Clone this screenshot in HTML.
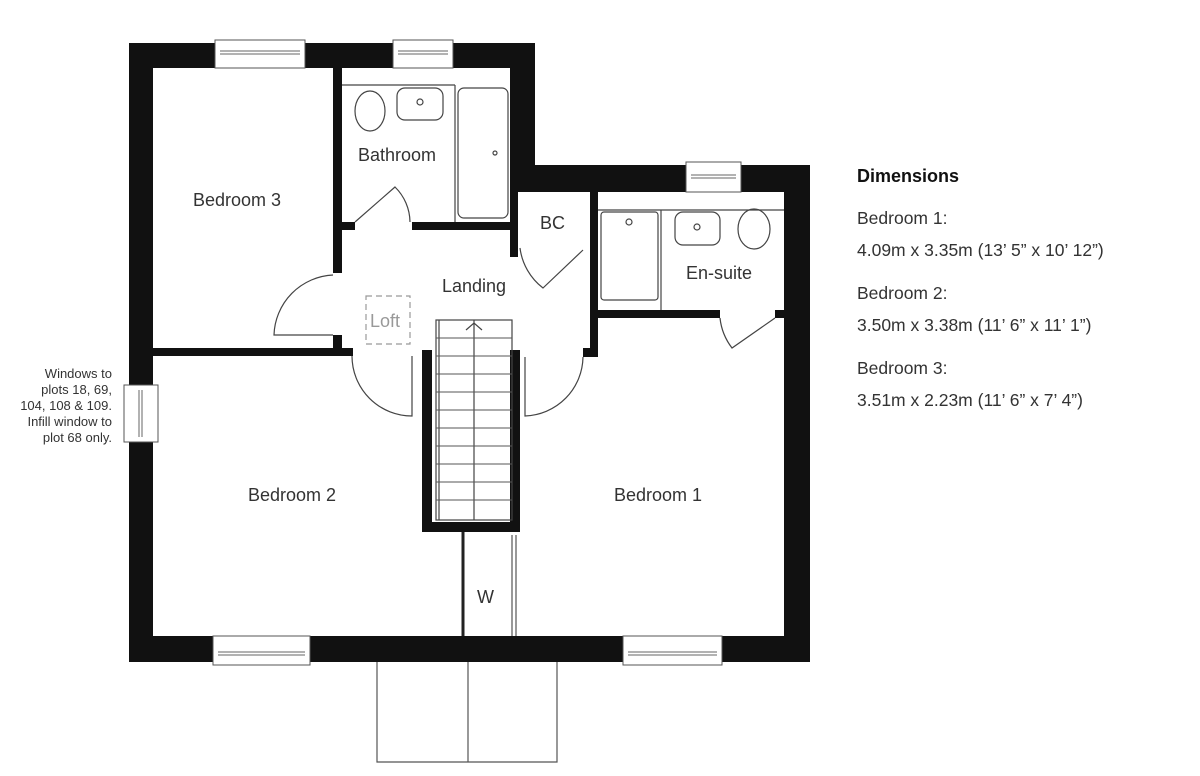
<!DOCTYPE html>
<html><head><meta charset="utf-8"><style>
body{margin:0;background:#fff;width:1200px;height:771px;overflow:hidden}
svg text{font-family:"Liberation Sans",sans-serif;fill:#333}
</style></head><body>
<svg width="1200" height="771" viewBox="0 0 1200 771" xmlns="http://www.w3.org/2000/svg">
<g fill="#111">
<rect x="129" y="43" width="24" height="619"/>
<rect x="129" y="43" width="406" height="25"/>
<rect x="510" y="43" width="25" height="149"/>
<rect x="510" y="165" width="300" height="27"/>
<rect x="784" y="165" width="26" height="497"/>
<rect x="129" y="636" width="681" height="26"/>
<rect x="333" y="68" width="9" height="205"/>
<rect x="333" y="335" width="9" height="20"/>
<rect x="153" y="348" width="200" height="8"/>
<rect x="342" y="222" width="13" height="8"/>
<rect x="412" y="222" width="106" height="8"/>
<rect x="510" y="192" width="8" height="65"/>
<rect x="590" y="192" width="8" height="165"/>
<rect x="598" y="310" width="122" height="8"/>
<rect x="775" y="310" width="9" height="8"/>
<rect x="422" y="350" width="10" height="182"/>
<rect x="510" y="350" width="10" height="182"/>
<rect x="422" y="522" width="98" height="10"/>
<rect x="583" y="348" width="15" height="9"/>
</g>
<g fill="#fff" stroke="#555" stroke-width="1">
<rect x="215" y="40" width="90" height="28"/>
<rect x="393" y="40" width="60" height="28"/>
<rect x="686" y="162" width="55" height="30"/>
<rect x="213" y="636" width="97" height="29"/>
<rect x="623" y="636" width="99" height="29"/>
<rect x="124" y="385" width="34" height="57"/>
</g>
<g stroke="#666" stroke-width="1" fill="none">
<line x1="220" y1="51" x2="300" y2="51"/><line x1="220" y1="54" x2="300" y2="54"/>
<line x1="398" y1="51" x2="448" y2="51"/><line x1="398" y1="54" x2="448" y2="54"/>
<line x1="691" y1="175" x2="736" y2="175"/><line x1="691" y1="178" x2="736" y2="178"/>
<line x1="218" y1="652" x2="305" y2="652"/><line x1="218" y1="655" x2="305" y2="655"/>
<line x1="628" y1="652" x2="717" y2="652"/><line x1="628" y1="655" x2="717" y2="655"/>
<line x1="139" y1="390" x2="139" y2="437"/><line x1="142" y1="390" x2="142" y2="437"/>
</g>
<g stroke="#444" stroke-width="1.2" fill="none">
<line x1="342" y1="85" x2="455" y2="85"/>
<ellipse cx="370" cy="111" rx="15" ry="20"/>
<rect x="397" y="88" width="46" height="32" rx="8"/>
<circle cx="420" cy="102" r="3"/>
<line x1="455" y1="85" x2="455" y2="222"/>
<rect x="458" y="88" width="50" height="130" rx="6"/>
<circle cx="495" cy="153" r="2"/>
<path d="M355 222 L395 187 A50 50 0 0 1 410 222"/>
<path d="M333 275 A62 62 0 0 0 274 335 L333 335"/>
<path d="M520 248 A60 60 0 0 0 543 288 L583 250"/>
<line x1="598" y1="210" x2="784" y2="210"/>
<rect x="601" y="212" width="57" height="88" rx="3"/>
<circle cx="629" cy="222" r="3"/>
<line x1="661" y1="210" x2="661" y2="310"/>
<rect x="675" y="212" width="45" height="33" rx="8"/>
<circle cx="697" cy="227" r="3"/>
<ellipse cx="754" cy="229" rx="16" ry="20"/>
<path d="M720 318 A60 60 0 0 0 732 348 L775 318"/>
<path d="M352 356 A60 60 0 0 0 412 416 L412 356"/>
<path d="M583 357 A60 60 0 0 1 525 416 L525 357"/>
<rect x="436" y="320" width="76" height="200"/>
<line x1="439" y1="320" x2="439" y2="520"/>
<line x1="474" y1="320" x2="474" y2="520"/>
<path d="M466 330 L474 323 L482 330"/>
</g>
<g stroke="#555" stroke-width="1">
<line x1="436" y1="338" x2="512" y2="338"/><line x1="436" y1="356" x2="512" y2="356"/>
<line x1="436" y1="374" x2="512" y2="374"/><line x1="436" y1="392" x2="512" y2="392"/>
<line x1="436" y1="410" x2="512" y2="410"/><line x1="436" y1="428" x2="512" y2="428"/>
<line x1="436" y1="446" x2="512" y2="446"/><line x1="436" y1="464" x2="512" y2="464"/>
<line x1="436" y1="482" x2="512" y2="482"/><line x1="436" y1="500" x2="512" y2="500"/>
</g>
<g stroke="#222" stroke-width="3" fill="none">
<line x1="463" y1="532" x2="463" y2="636"/>
</g>
<g stroke="#555" stroke-width="1.2" fill="none">
<line x1="512" y1="535" x2="512" y2="636"/><line x1="516" y1="535" x2="516" y2="636"/>
<rect x="366" y="296" width="44" height="48" stroke-dasharray="6 4" stroke="#999"/>
<path d="M377 662 L377 762 L557 762 L557 662 M468 662 L468 762"/>
</g>
<g font-size="18">
<text x="193" y="206">Bedroom 3</text>
<text x="358" y="161">Bathroom</text>
<text x="540" y="229">BC</text>
<text x="442" y="292">Landing</text>
<text x="686" y="279">En-suite</text>
<text x="370" y="327" style="fill:#999">Loft</text>
<text x="248" y="501">Bedroom 2</text>
<text x="614" y="501">Bedroom 1</text>
<text x="477" y="603">W</text>
</g>
<g font-size="13" text-anchor="end">
<text x="112" y="378">Windows to</text>
<text x="112" y="394">plots 18, 69,</text>
<text x="112" y="410">104, 108 &amp; 109.</text>
<text x="112" y="426">Infill window to</text>
<text x="112" y="442">plot 68 only.</text>
</g>
<text x="857" y="182" font-size="18" font-weight="bold" style="fill:#111">Dimensions</text>
<g font-size="17.5">
<text x="857" y="224">Bedroom 1:</text>
<text x="857" y="256">4.09m x 3.35m (13’ 5” x 10’ 12”)</text>
<text x="857" y="299">Bedroom 2:</text>
<text x="857" y="331">3.50m x 3.38m (11’ 6” x 11’ 1”)</text>
<text x="857" y="374">Bedroom 3:</text>
<text x="857" y="406">3.51m x 2.23m (11’ 6” x 7’ 4”)</text>
</g>
</svg>
</body></html>
